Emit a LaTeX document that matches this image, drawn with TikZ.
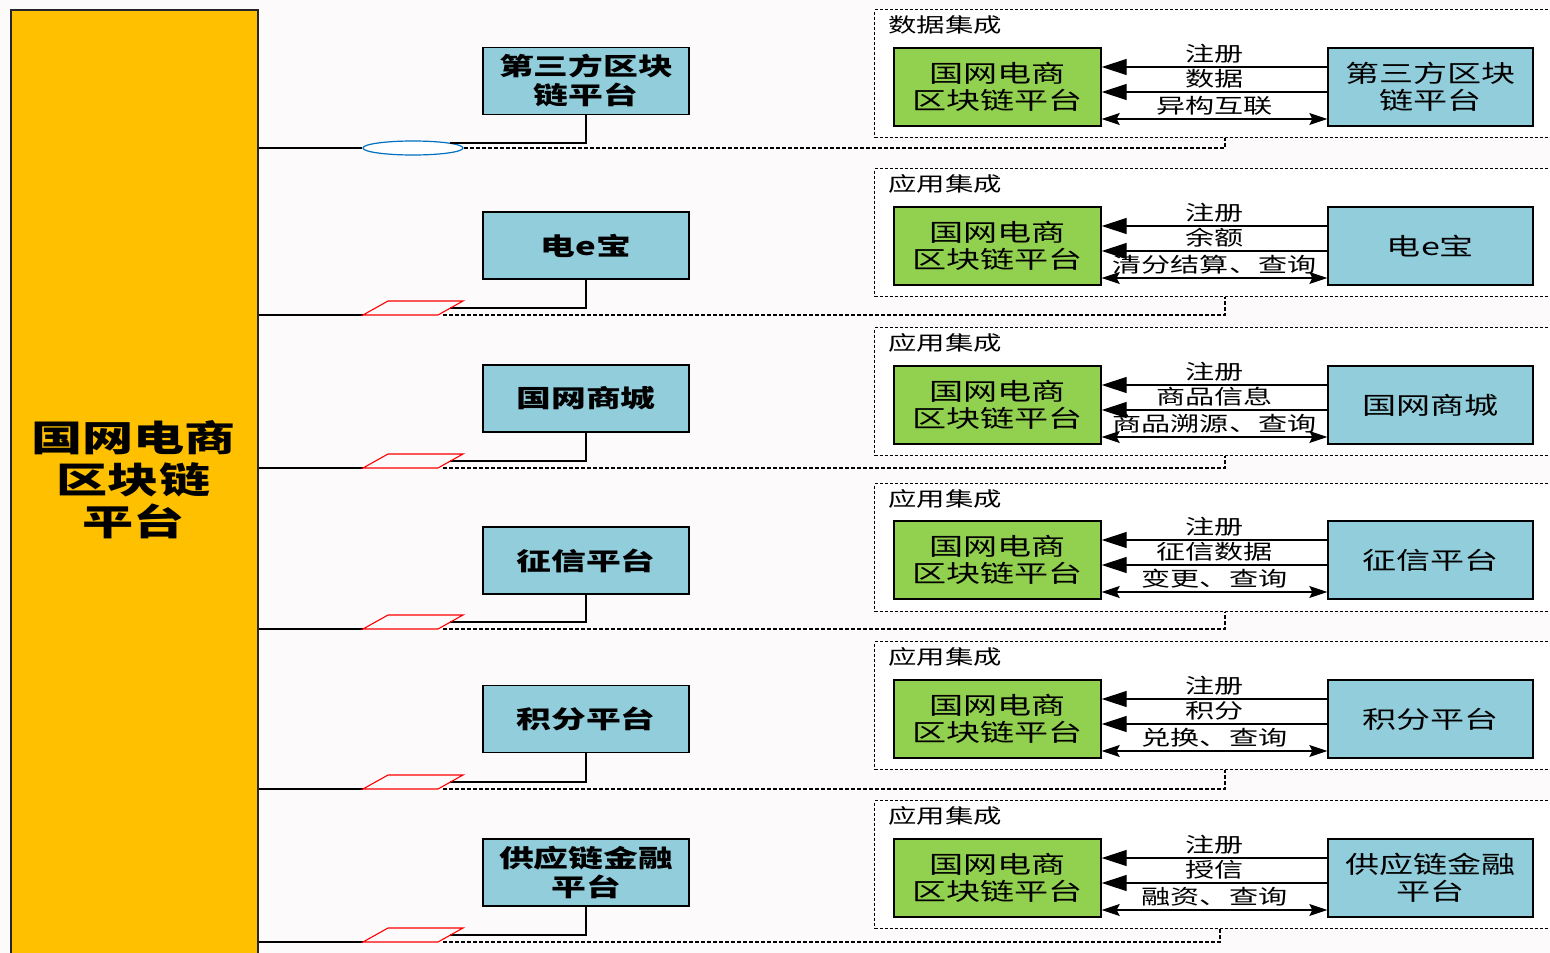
\documentclass[tikz,border=0pt]{standalone}
\usepackage{fontspec}
\setmainfont{Noto Sans CJK SC}[FakeStretch=1.42]
\usetikzlibrary{arrows.meta,shapes.geometric}

\definecolor{platyellow}{RGB}{255,192,0}
\definecolor{chaingreen}{RGB}{146,208,80}
\definecolor{sysblue}{RGB}{146,205,220}
\definecolor{ringblue}{RGB}{0,112,192}
\definecolor{pagebg}{RGB}{252,250,251}

\tikzset{
  platbox/.style={draw=black!85,line width=1.5pt,fill=platyellow,anchor=north west,
    minimum width=247pt,minimum height=990pt,inner sep=0pt},
  plattxt/.style={align=center,font=\bfseries\fontsize{36}{42}\selectfont},
  sysbox/.style={draw,line width=1.4pt,fill=sysblue,minimum width=206pt,minimum height=67pt,
    align=center,inner sep=0pt,font=\bfseries\fontsize{24.5}{29}\selectfont},
  chainbox/.style={draw,line width=1.4pt,fill=chaingreen,minimum width=207pt,minimum height=78pt,
    align=center,inner sep=0pt,font=\fontsize{24}{27}\selectfont},
  peerbox/.style={draw,line width=1.4pt,fill=sysblue,minimum width=205pt,minimum height=78pt,
    align=center,inner sep=0pt,font=\fontsize{24}{27}\selectfont},
  grpbox/.style={draw,line width=1.2pt,dash pattern=on 3pt off 2pt,fill=white,anchor=north west,
    minimum width=720pt,minimum height=128pt,inner sep=0pt},
  grplbl/.style={anchor=west,inner sep=0pt,font=\fontsize{20}{22}\selectfont},
  msg/.style={anchor=base,yshift=6pt,inner sep=0pt,font=\fontsize{20.5}{22}\selectfont},
  sgl/.style={line width=1.2pt,-{Triangle[length=25pt,width=16pt]}},
  dbl/.style={line width=1.2pt,{Stealth[length=18pt,width=12pt,inset=3pt]}-{Stealth[length=18pt,width=12pt,inset=3pt]}},
  ring/.style={ellipse,draw=ringblue,line width=1.2pt,fill=white,minimum width=100pt,
    minimum height=14pt,inner sep=0pt},
  para/.style={draw=red,line width=1.1pt},
  dsh/.style={line width=1.2pt,dash pattern=on 4pt off 2pt},
  wire/.style={line width=1.3pt}
}

\begin{document}
\begin{tikzpicture}[x=1pt,y=-1pt]
\useasboundingbox (0,0) rectangle (1550,953);
\clip (0,0) rectangle (1550,953);
\fill[pagebg] (0,0) rectangle (1550,953);

% platform
\node[platbox] (plat) at (10,9) {};
\node[plattxt] (plattxt) at (133.5,480) {国网电商\\区块链\\平台};

% row 1
\node[grpbox] (grp1) at (874,9) {};
\node[grplbl] (lbl1) at (888,25) {数据集成};
\node[sysbox] (sys1) at (586,81) {第三方区块\\链平台};
\node[chainbox] (bc1) at (997.5,87) {国网电商\\区块链平台};
\node[peerbox] (pr1) at (1430.5,87) {第三方区块\\链平台};
\draw[sgl] ([yshift=20pt]pr1.west) -- node[msg] {注册} ([yshift=20pt]bc1.east);
\draw[sgl] ([yshift=-5pt]pr1.west) -- node[msg] {数据} ([yshift=-5pt]bc1.east);
\draw[dbl] ([yshift=-32pt]bc1.east) -- node[msg] {异构互联} ([yshift=-32pt]pr1.west);
\node[ring] (sh1) at (413,148) {};
\coordinate (m1) at (450,143);
\draw[wire] (plat.east |- sh1) -- (sh1.west);
\draw[wire] (m1) -| (sys1.south);
\draw[dsh] (sh1.east) -| ([xshift=351pt]grp1.south west);

% row 2
\node[grpbox] (grp2) at (874,168) {};
\node[grplbl] (lbl2) at (888,184) {应用集成};
\node[sysbox] (sys2) at (586,245.5) {电e宝};
\node[chainbox] (bc2) at (997.5,246) {国网电商\\区块链平台};
\node[peerbox] (pr2) at (1430.5,246) {电e宝};
\draw[sgl] ([yshift=20pt]pr2.west) -- node[msg] {注册} ([yshift=20pt]bc2.east);
\draw[sgl] ([yshift=-5pt]pr2.west) -- node[msg] {余额} ([yshift=-5pt]bc2.east);
\draw[dbl] ([yshift=-32pt]bc2.east) -- node[msg] {清分结算、查询} ([yshift=-32pt]pr2.west);
\coordinate (sh2) at (363,315);
\coordinate (m2) at (450,308);
\coordinate (d2) at (443,315);
\draw[wire] (plat.east |- sh2) -- (sh2);
\draw[wire] (m2) -| (sys2.south);
\draw[para] (sh2) -- ++(75,0) -- ++(25,-14) -- ++(-75,0) -- cycle;
\draw[dsh] (d2) -| ([xshift=351pt]grp2.south west);

% row 3
\node[grpbox] (grp3) at (874,327) {};
\node[grplbl] (lbl3) at (888,343) {应用集成};
\node[sysbox] (sys3) at (586,398.5) {国网商城};
\node[chainbox] (bc3) at (997.5,405) {国网电商\\区块链平台};
\node[peerbox] (pr3) at (1430.5,405) {国网商城};
\draw[sgl] ([yshift=20pt]pr3.west) -- node[msg] {注册} ([yshift=20pt]bc3.east);
\draw[sgl] ([yshift=-5pt]pr3.west) -- node[msg] {商品信息} ([yshift=-5pt]bc3.east);
\draw[dbl] ([yshift=-32pt]bc3.east) -- node[msg] {商品溯源、查询} ([yshift=-32pt]pr3.west);
\coordinate (sh3) at (363,468);
\coordinate (m3) at (450,461);
\coordinate (d3) at (443,468);
\draw[wire] (plat.east |- sh3) -- (sh3);
\draw[wire] (m3) -| (sys3.south);
\draw[para] (sh3) -- ++(75,0) -- ++(25,-14) -- ++(-75,0) -- cycle;
\draw[dsh] (d3) -| ([xshift=351pt]grp3.south west);

% row 4
\node[grpbox] (grp4) at (874,483) {};
\node[grplbl] (lbl4) at (888,499) {应用集成};
\node[sysbox] (sys4) at (586,560.5) {征信平台};
\node[chainbox] (bc4) at (997.5,560) {国网电商\\区块链平台};
\node[peerbox] (pr4) at (1430.5,560) {征信平台};
\draw[sgl] ([yshift=20pt]pr4.west) -- node[msg] {注册} ([yshift=20pt]bc4.east);
\draw[sgl] ([yshift=-5pt]pr4.west) -- node[msg] {征信数据} ([yshift=-5pt]bc4.east);
\draw[dbl] ([yshift=-32pt]bc4.east) -- node[msg] {变更、查询} ([yshift=-32pt]pr4.west);
\coordinate (sh4) at (363,629);
\coordinate (m4) at (450,622);
\coordinate (d4) at (443,629);
\draw[wire] (plat.east |- sh4) -- (sh4);
\draw[wire] (m4) -| (sys4.south);
\draw[para] (sh4) -- ++(75,0) -- ++(25,-14) -- ++(-75,0) -- cycle;
\draw[dsh] (d4) -| ([xshift=351pt]grp4.south west);

% row 5
\node[grpbox] (grp5) at (874,641) {};
\node[grplbl] (lbl5) at (888,657) {应用集成};
\node[sysbox] (sys5) at (586,719) {积分平台};
\node[chainbox] (bc5) at (997.5,719) {国网电商\\区块链平台};
\node[peerbox] (pr5) at (1430.5,719) {积分平台};
\draw[sgl] ([yshift=20pt]pr5.west) -- node[msg] {注册} ([yshift=20pt]bc5.east);
\draw[sgl] ([yshift=-5pt]pr5.west) -- node[msg] {积分} ([yshift=-5pt]bc5.east);
\draw[dbl] ([yshift=-32pt]bc5.east) -- node[msg] {兑换、查询} ([yshift=-32pt]pr5.west);
\coordinate (sh5) at (363,789);
\coordinate (m5) at (450,782);
\coordinate (d5) at (443,789);
\draw[wire] (plat.east |- sh5) -- (sh5);
\draw[wire] (m5) -| (sys5.south);
\draw[para] (sh5) -- ++(75,0) -- ++(25,-14) -- ++(-75,0) -- cycle;
\draw[dsh] (d5) -| ([xshift=351pt]grp5.south west);

% row 6
\node[grpbox] (grp6) at (874,800) {};
\node[grplbl] (lbl6) at (888,816) {应用集成};
\node[sysbox] (sys6) at (586,872.5) {供应链金融\\平台};
\node[chainbox] (bc6) at (997.5,878) {国网电商\\区块链平台};
\node[peerbox] (pr6) at (1430.5,878) {供应链金融\\平台};
\draw[sgl] ([yshift=20pt]pr6.west) -- node[msg] {注册} ([yshift=20pt]bc6.east);
\draw[sgl] ([yshift=-5pt]pr6.west) -- node[msg] {授信} ([yshift=-5pt]bc6.east);
\draw[dbl] ([yshift=-32pt]bc6.east) -- node[msg] {融资、查询} ([yshift=-32pt]pr6.west);
\coordinate (sh6) at (363,942);
\coordinate (m6) at (450,935);
\coordinate (d6) at (443,942);
\draw[wire] (plat.east |- sh6) -- (sh6);
\draw[wire] (m6) -| (sys6.south);
\draw[para] (sh6) -- ++(75,0) -- ++(25,-14) -- ++(-75,0) -- cycle;
\draw[dsh] (d6) -| ([xshift=346pt]grp6.south west);
\end{tikzpicture}
\end{document}
